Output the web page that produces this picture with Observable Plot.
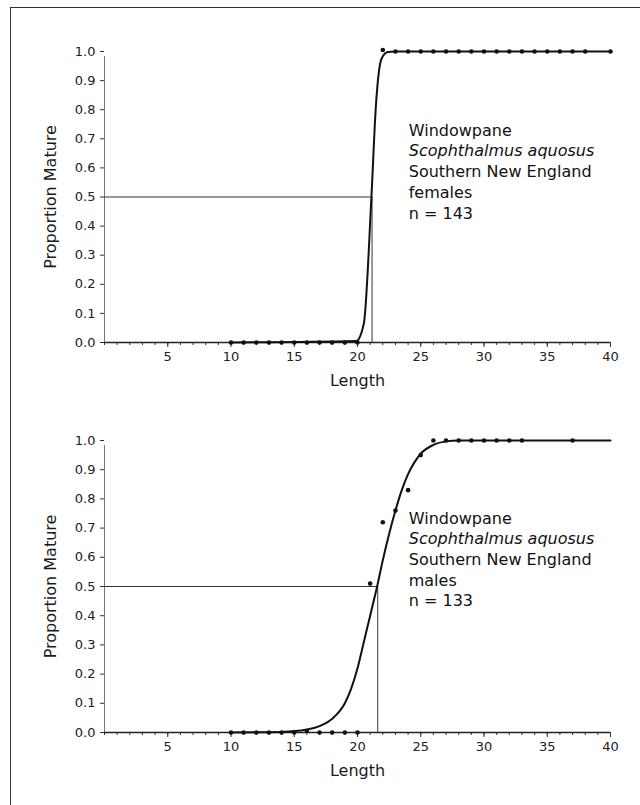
<!DOCTYPE html>
<html>
<head>
<meta charset="utf-8">
<script src="https://cdn.jsdelivr.net/npm/d3@7"></script>
<script src="https://cdn.jsdelivr.net/npm/@observablehq/plot@0.6"></script>
<style>
  html, body { margin: 0; padding: 0; background: #fff; }
  #page { position: relative; width: 640px; height: 805px; overflow: hidden; background: #fff; }
  #frame { position: absolute; left: 10px; top: 7px; width: 640px; height: 805px;
           border-left: 1.5px solid #333; border-top: 1.5px solid #333; }
  #page svg { position: absolute; left: 0; }
</style>
</head>
<body>
<div id="page"><div id="frame"></div></div>
<script>
// ---- Tick labels ----
const xTickLabels = [5, 10, 15, 20, 25, 30, 35, 40];
const xMinorTicks = [0,1,2,3,4,5,6,7,8,9,10,11,12,13,14,15,16,17,18,19,20,21,22,23,24,25,26,27,28,29,30,31,32,33,34,35,36,37,38,39,40];
const yTickLabels = [0, 0.1, 0.2, 0.3, 0.4, 0.5, 0.6, 0.7, 0.8, 0.9, 1.0];
const xTitle = "Length";
const yTitle = "Proportion Mature";

// ---- Females (top) ----
const femaleLength = [10, 11, 12, 13, 14, 15, 16, 17, 18, 19, 20, 22, 23, 24, 25, 26, 27, 28, 29, 30, 31, 32, 33, 34, 35, 36, 37, 38, 40];
const femaleProp   = [0, 0, 0, 0, 0, 0, 0, 0, 0, 0, 0, 1.005, 1, 1, 1, 1, 1, 1, 1, 1, 1, 1, 1, 1, 1, 1, 1, 1, 1.0];
const femaleCurveLength = [10, 19.9, 20.5, 21.1, 21.45, 21.9, 22.4, 23, 40];
const femaleCurveProp   = [0, 0.005, 0.065, 0.5, 0.81, 0.975, 0.998, 1.0, 1.0];
const femaleL50 = 21.15;
const femaleText = ["Windowpane", "Scophthalmus aquosus", "Southern New England", "females", "n = 143"];

// ---- Males (bottom) ----
const maleLength = [10, 11, 12, 13, 14, 15, 16, 17, 18, 19, 20, 21, 22, 23, 24, 25, 26, 27, 28, 29, 30, 31, 32, 33, 37];
const maleProp   = [0, 0, 0, 0, 0, 0, 0.005, 0, 0, 0, 0, 0.51, 0.72, 0.76, 0.83, 0.95, 1.0, 1.0, 1.0, 1.0, 1.0, 1.0, 1.0, 1.0, 1.0];
const maleCurveLength = [10, 14, 16, 17, 18, 19, 19.5, 20, 20.5, 21, 21.55, 22, 22.5, 23, 23.5, 24, 24.5, 25, 26, 27, 28, 40];
const maleCurveProp   = [0, 0.002, 0.01, 0.022, 0.047, 0.10, 0.15, 0.22, 0.31, 0.40, 0.50, 0.59, 0.68, 0.76, 0.83, 0.885, 0.925, 0.955, 0.985, 0.997, 1.0, 1.0];
const maleL50 = 21.6;
const maleText = ["Windowpane", "Scophthalmus aquosus", "Southern New England", "males", "n = 133"];

const FONT = "DejaVu Sans";

function chart({len, prop, cLen, cProp, l50, lines, top, height, marginTop, marginBottom, textY}) {
  const pts = len.map((d, i) => ({x: d, y: prop[i]}));
  const curve = cLen.map((d, i) => ({x: d, y: cProp[i]}));
  const svg = Plot.plot({
    width: 640,
    height,
    marginLeft: 104,
    marginRight: 30,
    marginTop,
    marginBottom,
    style: {fontFamily: FONT, fontSize: "13px", color: "#222", background: "transparent"},
    x: {type: "linear", domain: [0, 40]},
    y: {type: "linear", domain: [0, 1]},
    marks: [
      // minor x ticks
      Plot.axisX({ticks: xMinorTicks, tickSize: 3, tickFormat: () => "", stroke: "#333", label: null}),
      // major x ticks + labels
      Plot.axisX({ticks: xTickLabels, tickSize: 5, tickPadding: 4, stroke: "#333", fontSize: 13, fill: "#222", label: null}),
      Plot.axisY({ticks: yTickLabels, tickSize: 4, tickPadding: 5, tickFormat: d3.format(".1f"), stroke: "#333", fontSize: 13, fill: "#222", label: null}),
      // axis titles
      Plot.text([xTitle], {frameAnchor: "bottom", dy: 38, text: d => d, textAnchor: "middle", lineAnchor: "middle", fontSize: 16, fill: "#1a1a1a"}),
      Plot.text([yTitle], {frameAnchor: "left", dx: -54, rotate: -90, text: d => d, textAnchor: "middle", lineAnchor: "middle", fontSize: 16, fill: "#1a1a1a"}),
      // axis lines
      Plot.ruleX([0], {y1: 0, y2: 1, stroke: "#777", strokeWidth: 1, insetBottom: -5}),
      Plot.ruleY([0], {x1: 0, x2: 40, stroke: "#222", strokeWidth: 1.5}),
      // L50 reference lines
      Plot.ruleY([0.5], {x1: 0, x2: l50, stroke: "#333", strokeWidth: 1}),
      Plot.ruleX([l50], {y1: 0, y2: 0.5, stroke: "#333", strokeWidth: 1}),
      // fitted curve
      Plot.line(curve, {x: "x", y: "y", stroke: "#111", strokeWidth: 2, curve: "monotone-x"}),
      // observations
      Plot.dot(pts, {x: "x", y: "y", r: 2.3, fill: "#111", stroke: "none"}),
      // annotation
      ...lines.map((t, i) => Plot.text([t], {
        x: () => 24.05, y: () => textY, dy: i * 20.7, text: d => d, textAnchor: "start",
        fontSize: 16, fontStyle: i === 1 ? "italic" : "normal", fill: "#111"
      }))
    ]
  });
  svg.style.top = top + "px";
  return svg;
}

const page = document.getElementById("page");
page.appendChild(chart({
  len: femaleLength, prop: femaleProp, cLen: femaleCurveLength, cProp: femaleCurveProp,
  l50: femaleL50, lines: femaleText, top: 0, height: 390, marginTop: 51, marginBottom: 48, textY: 0.728
}));
page.appendChild(chart({
  len: maleLength, prop: maleProp, cLen: maleCurveLength, cProp: maleCurveProp,
  l50: maleL50, lines: maleText, top: 390, height: 415, marginTop: 50, marginBottom: 73, textY: 0.733
}));
</script>
</body>
</html>
